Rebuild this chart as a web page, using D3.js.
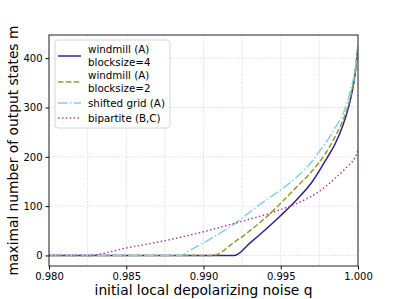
<!DOCTYPE html>
<html>
<head>
<meta charset="utf-8">
<script src="https://cdn.jsdelivr.net/npm/d3@7"></script>
<style>
  body { margin: 0; background: #fff; }
  svg { font-family: "DejaVu Sans", sans-serif; }
</style>
</head>
<body>
<svg id="chart" width="399" height="299"></svg>
<script>
// values (q, m)
const qWindmill4 = [0.980, 0.992, 0.993, 0.994, 0.995, 0.996, 0.997, 0.998, 0.9985, 0.999, 0.9995, 0.9998, 1.000]
const mWindmill4 = [0, 0, 25, 52, 81, 112, 148, 198, 225, 262, 315, 365, 425]

const qWindmill2 = [0.980, 0.9906, 0.992, 0.993, 0.994, 0.995, 0.996, 0.997, 0.998, 0.9985, 0.999, 0.9995, 0.9998, 1.000]
const mWindmill2 = [0, 0, 27, 50, 76, 106, 138, 170, 212, 240, 272, 320, 368, 425]

const qShifted = [0.980, 0.9885, 0.9891, 0.9898, 0.9919, 0.9935, 0.995, 0.996, 0.997, 0.9975, 0.998, 0.9985, 0.999, 0.9995, 0.9998, 1.000]
const mShifted = [0, 0, 10, 22, 62, 100, 133, 158, 190, 211, 232, 258, 285, 333, 375, 425]

const qBipartite = [0.980, 0.9825, 0.985, 0.9875, 0.990, 0.992, 0.995, 0.9965, 0.9975, 0.9985, 0.9993, 0.9998, 1.000]
const mBipartite = [0, 0, 15, 30, 48, 65, 93, 112, 130, 156, 180, 198, 212]

const xTicks = [0.980, 0.985, 0.990, 0.995, 1.000]
const xGrid = [0.980, 0.9825, 0.985, 0.9875, 0.990, 0.9925, 0.995, 0.9975, 1.000]
const yTicks = [0, 100, 200, 300, 400]

const seriesNames = [["windmill (A)", "blocksize=4"], ["windmill (A)", "blocksize=2"], ["shifted grid (A)"], ["bipartite (B,C)"]]

const axLeft = 49, axRight = 358, axTop = 35, axBottom = 266

const svg = d3.select("#chart")

const x = d3.scaleLinear().domain([0.980, 1.000]).range([axLeft, axRight])
const y = d3.scaleLinear().domain([-21.4, 447]).range([axBottom, axTop])

// grid
svg.append("g")
  .selectAll("line")
  .data(xGrid)
  .join("line")
  .attr("x1", d => x(d)).attr("x2", d => x(d))
  .attr("y1", axTop).attr("y2", axBottom)
  .attr("stroke", "#c8c8c8")
  .attr("stroke-width", 0.8)
  .attr("stroke-dasharray", "1,1.6")

svg.append("g")
  .selectAll("line")
  .data(yTicks)
  .join("line")
  .attr("x1", axLeft).attr("x2", axRight)
  .attr("y1", d => y(d)).attr("y2", d => y(d))
  .attr("stroke", "#c8c8c8")
  .attr("stroke-width", 0.8)
  .attr("stroke-dasharray", "1,1.6")

svg.append("clipPath").attr("id", "clip")
  .append("rect")
  .attr("x", axLeft).attr("y", axTop)
  .attr("width", axRight - axLeft).attr("height", axBottom - axTop)

const series = [
  { q: qWindmill4, m: mWindmill4, color: "#332288", dash: null },
  { q: qWindmill2, m: mWindmill2, color: "#999933", dash: "5.5,2.4" },
  { q: qShifted, m: mShifted, color: "#88CCEE", dash: "9.6,2.4,1.5,2.4" },
  { q: qBipartite, m: mBipartite, color: "#AA4499", dash: "1.5,2.4" }
]

const line = d3.line()
  .x(d => x(d[0]))
  .y(d => y(d[1]))
  .curve(d3.curveMonotoneX)

const plot = svg.append("g").attr("clip-path", "url(#clip)")
series.forEach(s => {
  plot.append("path")
    .datum(d3.zip(s.q, s.m))
    .attr("d", line)
    .attr("fill", "none")
    .attr("stroke", s.color)
    .attr("stroke-width", 1.5)
    .attr("stroke-dasharray", s.dash)
})

// axes
const xAxis = svg.append("g")
  .attr("transform", `translate(0,${axBottom})`)
  .call(d3.axisBottom(x).tickValues(xTicks).tickFormat(d3.format(".3f")).tickSizeOuter(0).tickSize(3.5).tickPadding(3))
xAxis.select(".domain").remove()
xAxis.selectAll("text").attr("font-size", 10).attr("fill", "#000").attr("font-family", "DejaVu Sans")

const yAxis = svg.append("g")
  .attr("transform", `translate(${axLeft},0)`)
  .call(d3.axisLeft(y).tickValues(yTicks).tickSizeOuter(0).tickSize(3.5).tickPadding(3))
yAxis.select(".domain").remove()
yAxis.selectAll("text").attr("font-size", 10).attr("fill", "#000").attr("font-family", "DejaVu Sans")

svg.append("rect")
  .attr("x", axLeft).attr("y", axTop)
  .attr("width", axRight - axLeft).attr("height", axBottom - axTop)
  .attr("fill", "none")
  .attr("stroke", "#222")
  .attr("stroke-width", 1)

// labels
svg.append("text")
  .attr("x", (axLeft + axRight) / 2)
  .attr("y", 295)
  .attr("text-anchor", "middle")
  .attr("font-size", 13.8)
  .text("initial local depolarizing noise q")

svg.append("text")
  .attr("transform", `translate(18,${(axTop + axBottom) / 2}) rotate(-90)`)
  .attr("text-anchor", "middle")
  .attr("font-size", 13.8)
  .text("maximal number of output states m")

// legend
const legend = svg.append("g")
legend.append("rect")
  .attr("x", 55).attr("y", 40)
  .attr("width", 115).attr("height", 88)
  .attr("rx", 3)
  .attr("fill", "#fff").attr("fill-opacity", 0.8)
  .attr("stroke", "#d6d6d6")

const legendY = [56, 82, 103, 118]
series.forEach((s, i) => {
  legend.append("line")
    .attr("x1", 58).attr("x2", 81)
    .attr("y1", legendY[i]).attr("y2", legendY[i])
    .attr("stroke", s.color)
    .attr("stroke-width", 1.5)
    .attr("stroke-dasharray", s.dash)
  const lines = seriesNames[i]
  lines.forEach((t, j) => {
    legend.append("text")
      .attr("x", 88)
      .attr("y", legendY[i] + (j - (lines.length - 1) / 2) * 12.5)
      .attr("dy", "0.35em")
      .attr("font-size", 10.3)
      .text(t)
  })
})
</script>
</body>
</html>
